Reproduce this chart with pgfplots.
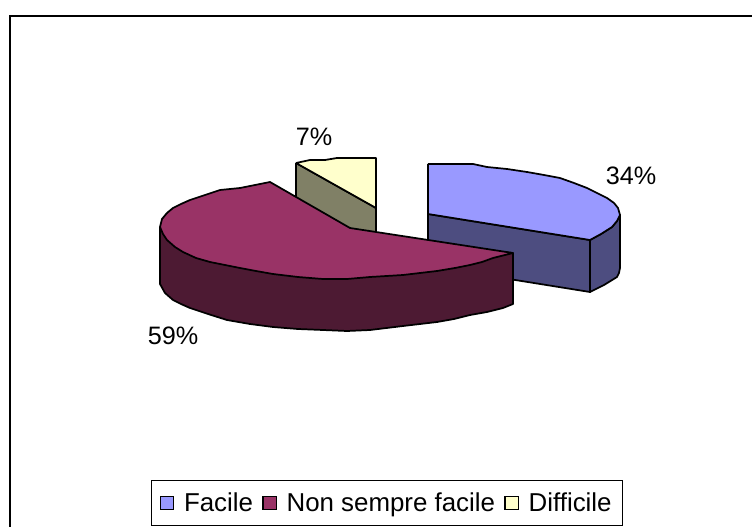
\documentclass[border=0pt]{standalone}
\usepackage{fontspec}
\setmainfont{Liberation Sans}
\usepackage{pgfplots}
\pgfplotsset{compat=1.18}
\definecolor{blueTop}{HTML}{9999FF}
\definecolor{blueSide}{HTML}{4D4D80}
\definecolor{maroonTop}{HTML}{993366}
\definecolor{maroonSide}{HTML}{4D1A33}
\definecolor{yellowTop}{HTML}{FFFFCC}
\definecolor{yellowSide}{HTML}{808066}
\newcommand{\lbl}{\fontsize{18.9pt}{22pt}\selectfont}
\pgfplotsset{
  slice/.style={draw=black, line width=1.3pt, line join=round, forget plot},
  swatch/.style={legend image code/.code={
    \draw[fill=#1, draw=black, line width=1pt] (0pt,-5pt) rectangle (10pt,5pt);}},
}
\begin{document}
\begin{tikzpicture}
\useasboundingbox (0,0) rectangle (564pt,395.25pt);
\begin{axis}[
    at={(0,0)}, anchor=south west,
    scale only axis, width=564pt, height=395.25pt,
    xmin=0, xmax=752, ymin=0, ymax=527, y dir=reverse,
    hide axis, clip=true,
    legend style={at={(axis cs:387,503)}, anchor=center, legend columns=3,
      draw=black, line width=0.8pt, font=\fontsize{19.4pt}{22pt}\selectfont,
      inner xsep=6pt, inner ysep=7.4pt,
      /tikz/every odd column/.style={column sep=5.2pt},
      /tikz/every even column/.style={column sep=5pt}},
    legend cell align=left,
  ]
  \addlegendimage{swatch=blueTop}
  \addlegendimage{swatch=maroonTop}
  \addlegendimage{swatch=yellowTop}

  % chart frame
  \addplot[draw=black, line width=1.6pt, forget plot] coordinates {(10,540)(10,16)(765,16)};

  % Difficile
  \addplot[slice, fill=yellowSide] coordinates {(296,163)(376,208)(376,233)(350,229)(296,198)(296,163)};
  \addplot[slice, fill=yellowTop] coordinates {(296,163)(310,160)(325,160)(337,158)(376,158)(376,208)(296,163)};

  % Facile
  \addplot[slice, fill=blueSide] coordinates {(428,214)(590,240)(590,292)(428,266)(428,214)};
  \addplot[slice, fill=blueSide] coordinates {(590,240)(601,234)(612,227)(617,221)(620,215)(620,268)(619,273)(617,277)(604,285)(590,292)(590,240)};
  \addplot[slice, fill=blueTop] coordinates {(428,164)(473,164)(487,167)(507,169)(527,172)(544,175)(560,178)(574,183)(587,188)(597,193)(607,198)(614,203)(618,208)(620,215)(617,221)(612,227)(601,234)(590,240)(428,214)(428,164)};

  % Non sempre facile
  \addplot[slice, fill=maroonSide] coordinates {(160,227)(160,284)(165,293)(173,300)(181,304)(190,308)(208,314)(227,320)(250,324)(273,327)(298,329)(323,330)(347,331)(370,330)(403,326)(420,324)(437,322)(454,319)(470,315)(487,312)(503,308)(513,304)(513,253)(160,227)};
  \addplot[slice, fill=maroonTop] coordinates {(350,228)(270,182)(255,185)(240,188)(220,190)(205,195)(190,200)(181,204)(173,208)(167,213)(162,219)(160,227)(163,234)(167,240)(175,247)(183,252)(196,258)(210,262)(225,265)(240,268)(256,271)(273,274)(298,277)(323,279)(347,279)(370,277)(403,275)(437,271)(455,268)(470,265)(482,262)(493,258)(513,253)(350,228)};

  \legend{Facile, Non sempre facile, Difficile}

  % data labels
  \node[font=\lbl] at (axis cs:631,176) {34\%};
  \node[font=\lbl] at (axis cs:173,336) {59\%};
  \node[font=\lbl] at (axis cs:314,137) {7\%};
\end{axis}
\end{tikzpicture}
\end{document}
